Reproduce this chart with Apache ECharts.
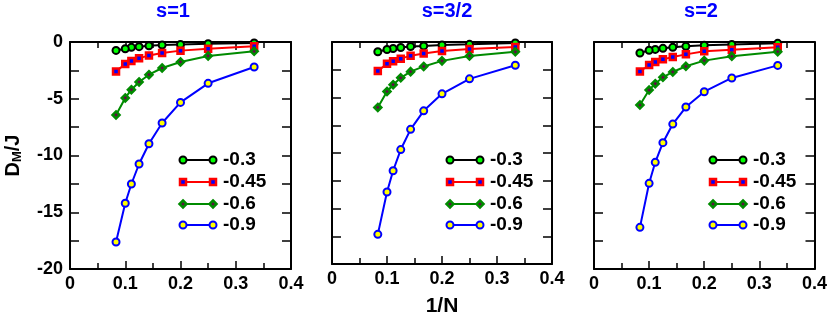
<!DOCTYPE html>
<html>
<head>
<meta charset="utf-8">
<script src="https://cdn.jsdelivr.net/npm/echarts@6/dist/echarts.min.js"></script>
<style>
  html, body { margin: 0; padding: 0; background: #fff; }
  #chart { width: 830px; height: 322px; }
</style>
</head>
<body>
<div id="chart"></div>
<script>
// x values: 1/N for N = 3,4,5,6,7,8,9,10,12
const invN = [0.3333, 0.25, 0.2, 0.1667, 0.1429, 0.125, 0.1111, 0.1, 0.0833]
const panelTitles = ['s=1', 's=3/2', 's=2']
const seriesNames = ['-0.3', '-0.45', '-0.6', '-0.9']
const xTicks = [0, 0.1, 0.2, 0.3, 0.4]
const yTicks = [-20, -15, -10, -5, 0]

// D_M/J (same order as invN)
const s1_m03 = [-0.09, -0.15, -0.21, -0.27, -0.33, -0.41, -0.47, -0.59, -0.74]
const s1_m045 = [-0.38, -0.59, -0.76, -0.97, -1.18, -1.44, -1.68, -1.94, -2.59]
const s1_m06 = [-0.82, -1.23, -1.76, -2.29, -2.88, -3.52, -4.20, -4.93, -6.43]
const s1_m09 = [-2.20, -3.64, -5.32, -7.14, -8.96, -10.75, -12.51, -14.21, -17.62]

const s32_m03 = [-0.09, -0.21, -0.26, -0.35, -0.41, -0.50, -0.59, -0.68, -0.88]
const s32_m045 = [-0.44, -0.62, -0.82, -1.03, -1.23, -1.50, -1.73, -1.97, -2.61]
const s32_m06 = [-0.88, -1.26, -1.70, -2.20, -2.67, -3.23, -3.85, -4.46, -5.90]
const s32_m09 = [-2.09, -3.32, -4.67, -6.20, -7.87, -9.69, -11.60, -13.51, -17.33]

const s2_m03 = [-0.12, -0.21, -0.29, -0.38, -0.47, -0.56, -0.65, -0.73, -0.97]
const s2_m045 = [-0.47, -0.68, -0.82, -1.09, -1.32, -1.53, -1.76, -2.03, -2.61]
const s2_m06 = [-0.85, -1.26, -1.64, -2.14, -2.64, -3.11, -3.67, -4.23, -5.55]
const s2_m09 = [-2.06, -3.17, -4.38, -5.73, -7.23, -8.87, -10.60, -12.45, -16.33]

const panelData = [
  [s1_m03, s1_m045, s1_m06, s1_m09],
  [s32_m03, s32_m045, s32_m06, s32_m09],
  [s2_m03, s2_m045, s2_m06, s2_m09]
]

// layout
const FONT = '"Liberation Sans", Arial, Helvetica, sans-serif'
const grids = [
  { left: 70, top: 42, width: 221, height: 227 },
  { left: 332, top: 42, width: 220, height: 227 },
  { left: 594, top: 42, width: 222, height: 227 }
]
const titleX = [173, 447, 701]
const legendX = [183, 450, 713]
const legendY = [160, 182, 204, 225]

// marker styles (grace-like)
const styles = [
  { line: '#000000', symbol: 'circle', size: 7, fill: '#00ff00', border: '#000000', bw: 2 },
  { line: '#ff0000', symbol: 'rect', size: 6, fill: '#0000ff', border: '#ff0000', bw: 2.5 },
  { line: '#008b00', symbol: 'diamond', size: 7, fill: '#670748', border: '#008b00', bw: 2.5 },
  { line: '#0000ff', symbol: 'circle', size: 7, fill: '#ffff00', border: '#0000ff', bw: 2 }
]

const chart = echarts.init(document.getElementById('chart'))

function marker (st, cx, cy) {
  const style = { fill: st.fill, stroke: st.border, lineWidth: st.bw }
  const r = st.size / 2
  if (st.symbol === 'circle') {
    return { type: 'circle', shape: { cx: cx, cy: cy, r: r }, style: style, z: 101 }
  }
  if (st.symbol === 'rect') {
    return { type: 'rect', shape: { x: cx - r, y: cy - r, width: st.size, height: st.size }, style: style, z: 101 }
  }
  return {
    type: 'polygon',
    shape: { points: [[cx, cy - r], [cx + r, cy], [cx, cy + r], [cx - r, cy]] },
    style: style,
    z: 101
  }
}

const xAxes = []
const yAxes = []
const series = []
const titles = []
const graphics = []

grids.forEach((g, p) => {
  const tickStyle = { lineStyle: { color: '#000', width: 1.5 } }
  // bottom + top x axes
  ;['bottom', 'top'].forEach(pos => {
    xAxes.push({
      type: 'value',
      gridIndex: p,
      position: pos,
      min: 0,
      max: 0.4,
      interval: 0.1,
      axisLine: { show: true, onZero: false, lineStyle: { color: '#000', width: 2 } },
      axisTick: { show: true, inside: true, length: 8, ...tickStyle },
      minorTick: { show: true, splitNumber: 2, length: 6, ...tickStyle },
      splitLine: { show: false },
      axisLabel: {
        show: pos === 'bottom',
        margin: 6,
        color: '#000',
        fontSize: 18,
        fontWeight: 'bold',
        fontFamily: FONT
      },
      name: (pos === 'bottom' && p === 1) ? '1/N' : '',
      nameLocation: 'middle',
      nameGap: 32,
      nameTextStyle: { color: '#000', fontSize: 21, fontWeight: 'bold', fontFamily: FONT }
    })
  })
  // left + right y axes
  ;['left', 'right'].forEach(pos => {
    yAxes.push({
      type: 'value',
      gridIndex: p,
      position: pos,
      min: -20,
      max: 0,
      interval: 5,
      axisLine: { show: true, onZero: false, lineStyle: { color: '#000', width: 2 } },
      axisTick: { show: true, inside: true, length: 9, ...tickStyle },
      minorTick: { show: true, splitNumber: 2, length: 9, ...tickStyle },
      splitLine: { show: false },
      axisLabel: {
        show: pos === 'left' && p === 0,
        margin: 7,
        color: '#000',
        fontSize: 18,
        fontWeight: 'bold',
        fontFamily: FONT
      },
      name: (pos === 'left' && p === 0) ? '{a|D}{b|M}{a|/J}' : '',
      nameLocation: 'middle',
      nameGap: 46,
      nameTextStyle: {
        rich: {
          a: { fontSize: 20, fontWeight: 'bold', fontFamily: FONT, color: '#000' },
          b: { fontSize: 13, fontWeight: 'bold', fontFamily: FONT, color: '#000', verticalAlign: 'bottom', padding: [9, 0, 0, 0] }
        }
      }
    })
  })

  panelData[p].forEach((vals, i) => {
    const st = styles[i]
    series.push({
      name: seriesNames[i],
      type: 'line',
      xAxisIndex: p * 2,
      yAxisIndex: p * 2,
      data: invN.map((x, k) => [x, vals[k]]),
      clip: false,
      symbol: st.symbol,
      symbolSize: st.size,
      showAllSymbol: true,
      lineStyle: { color: st.line, width: 2 },
      itemStyle: { color: st.fill, borderColor: st.border, borderWidth: st.bw },
      emphasis: { disabled: true },
      animation: false
    })

    // legend entry: line with a marker at both ends, then the label
    const x0 = legendX[p]
    const y0 = legendY[i]
    graphics.push({
      type: 'line',
      shape: { x1: x0, y1: y0, x2: x0 + 30, y2: y0 },
      style: { stroke: st.line, lineWidth: 2 },
      z: 100
    })
    graphics.push(marker(st, x0, y0))
    graphics.push(marker(st, x0 + 30, y0))
    graphics.push({
      type: 'text',
      x: x0 + 40,
      y: y0,
      style: {
        text: seriesNames[i],
        fill: '#000',
        font: 'bold 19px ' + FONT,
        verticalAlign: 'middle'
      },
      z: 100
    })
  })

  titles.push({
    text: panelTitles[p],
    left: titleX[p],
    top: 1,
    padding: 0,
    textAlign: 'center',
    textStyle: { color: '#0000ff', fontSize: 20, fontWeight: 'bold', fontFamily: FONT }
  })
})

chart.setOption({
  animation: false,
  backgroundColor: '#fff',
  title: titles,
  grid: grids,
  xAxis: xAxes,
  yAxis: yAxes,
  series: series,
  graphic: graphics
})
</script>
</body>
</html>
